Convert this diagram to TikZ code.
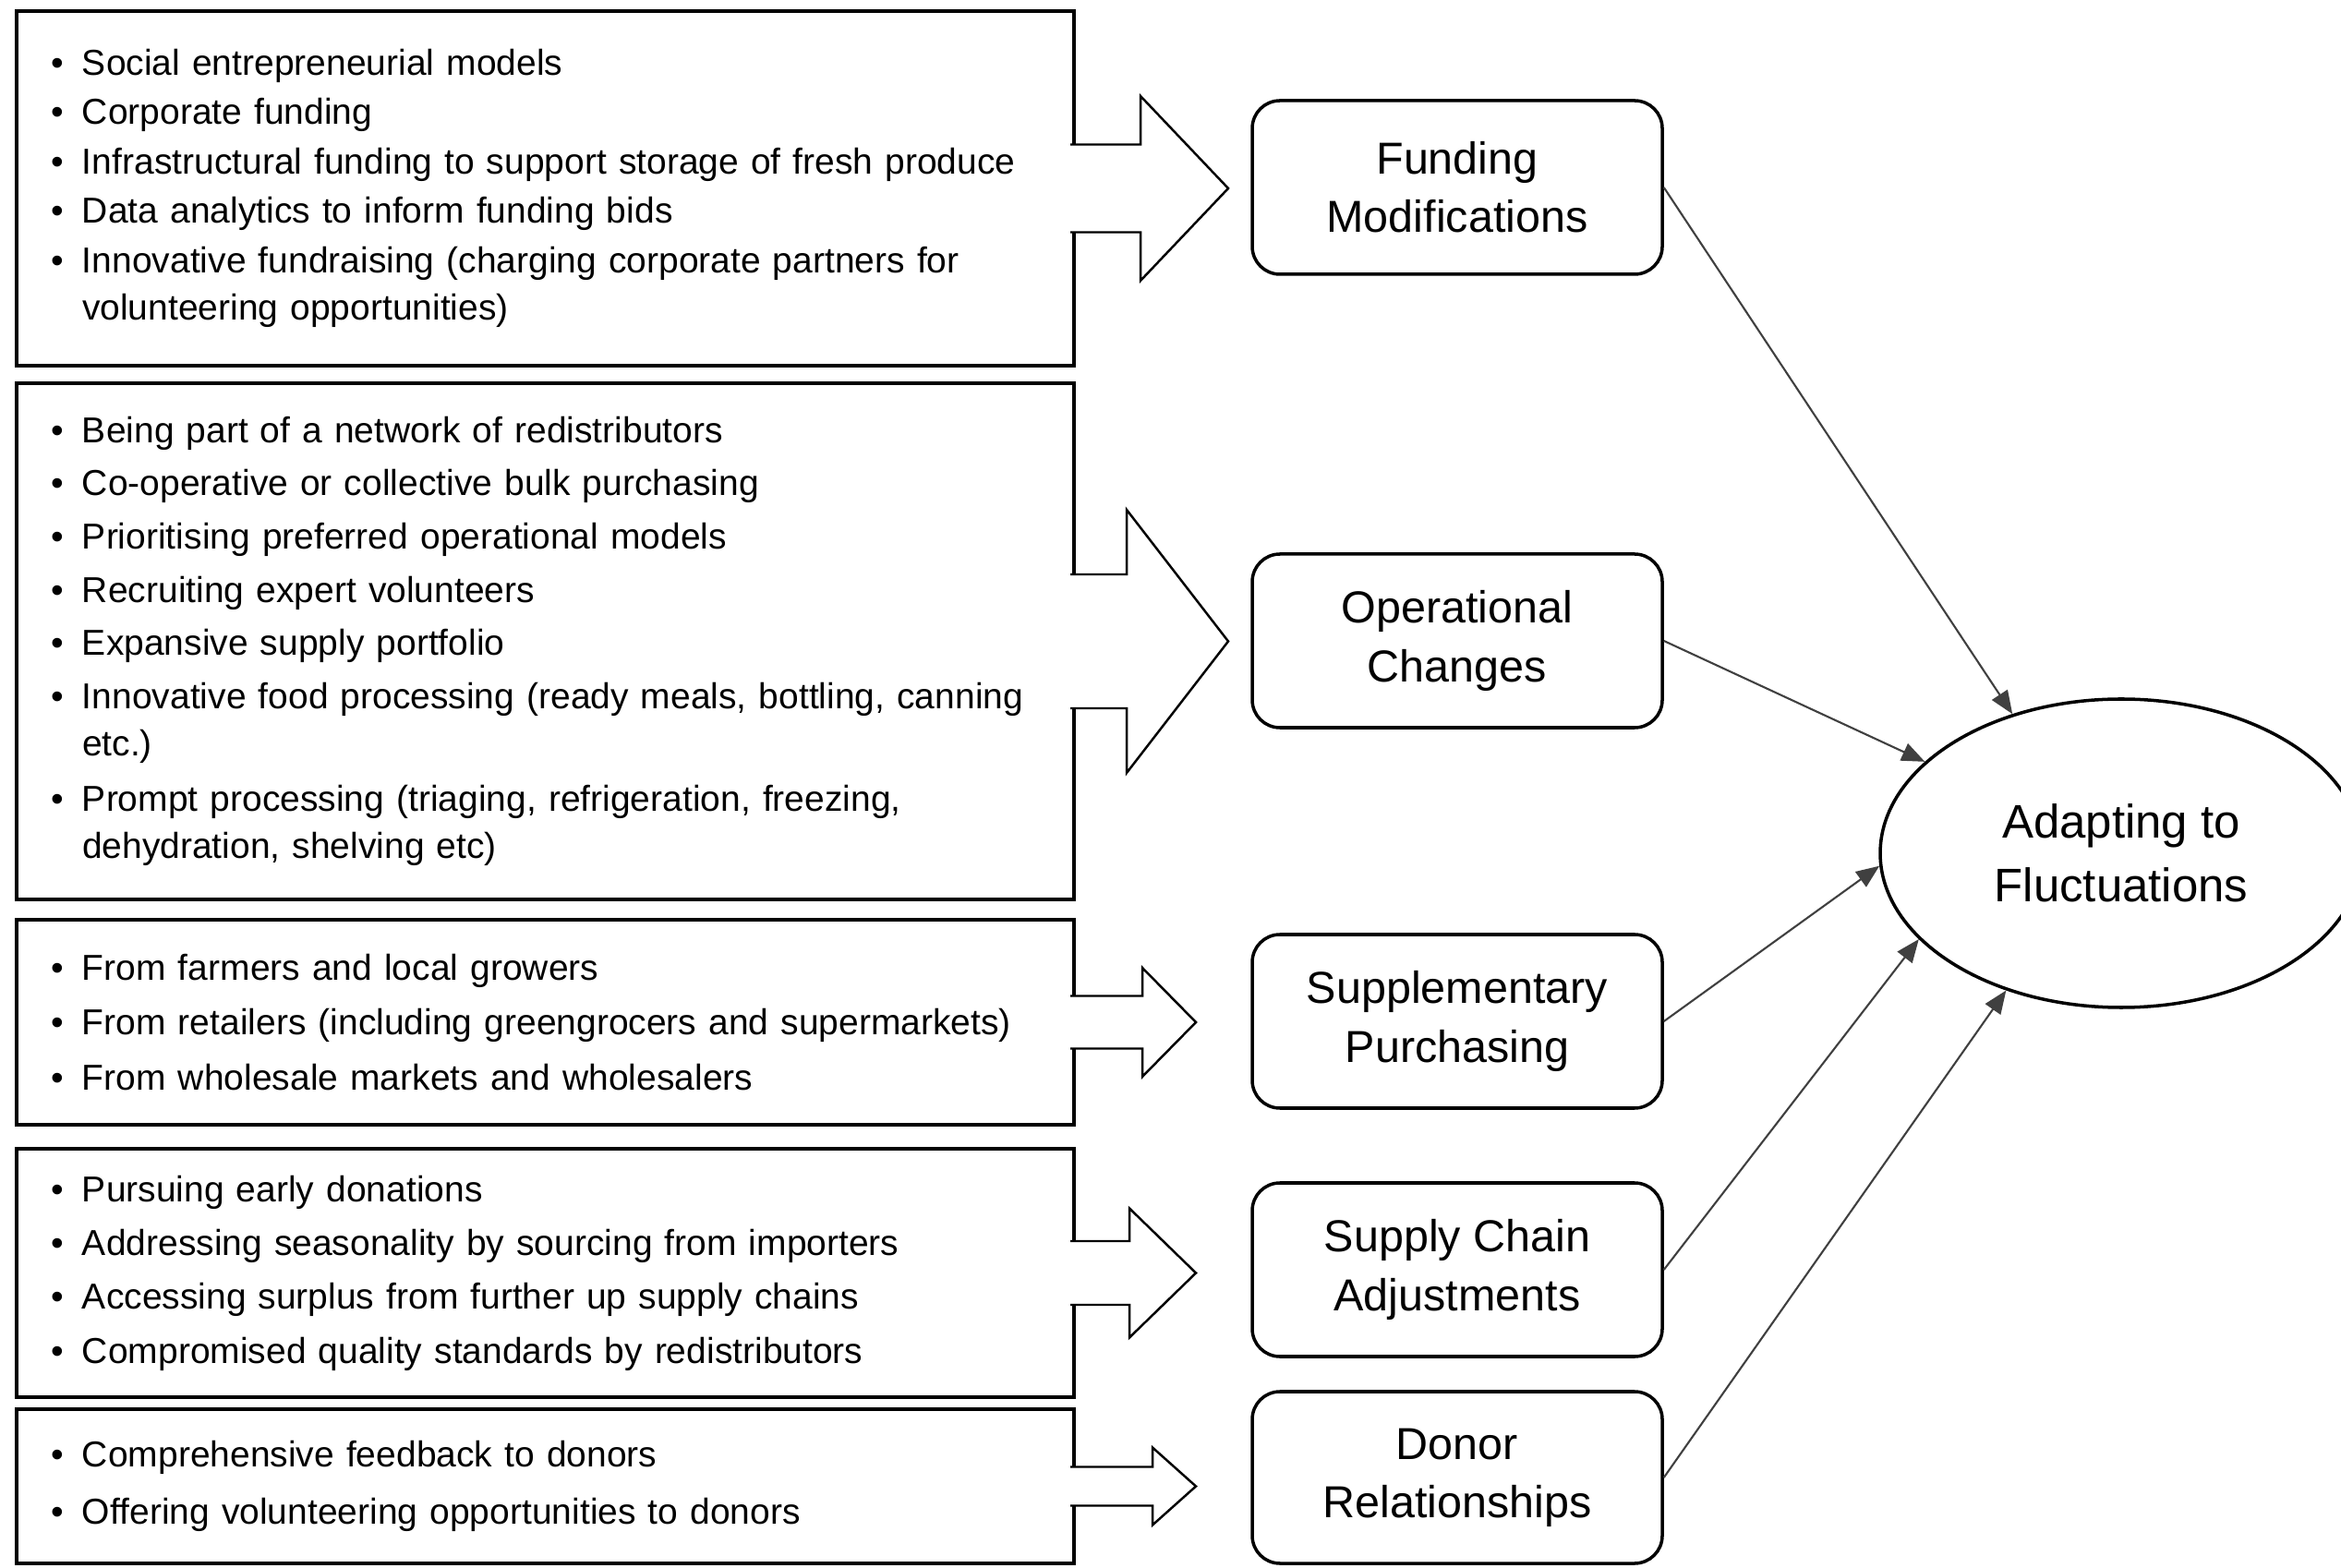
\documentclass[tikz,border=0pt]{standalone}
\usepackage{fontspec}
\setmainfont{Liberation Sans}
\usepackage{tikz}
\usetikzlibrary{
    arrows.meta,
    shapes.geometric
}

\newcommand{\bul}{\makebox[0.34cm][l]{\textbullet}}
\newcommand{\cont}{\makebox[0.34cm]{}}
\newcommand{\listfont}{%
    \fontsize{11.1}{14.6}\selectfont
    \spaceskip=0.23em plus 0.1em minus 0.05em\relax
    \hyphenpenalty=10000\relax}

\begin{document}
\begin{tikzpicture}[
    listbox/.style={
        draw=black,
        line width=1.1pt,
        outer sep=0pt,
        text width=10.71cm,
        inner xsep=0.37cm,
        align=left,
        font=\listfont
    },
    blockarrow/.style={
        draw=black,
        fill=white,
        line width=0.7pt,
        line join=miter
    },
    stage/.style={
        draw=black,
        line width=1pt,
        rounded corners=0.3cm,
        minimum width=4.44cm,
        minimum height=1.88cm,
        align=center,
        font=\fontsize{13.8}{18}\selectfont
    },
    goal/.style={
        ellipse,
        draw=black,
        line width=1pt,
        minimum width=5.22cm,
        minimum height=3.34cm,
        inner sep=0pt,
        align=center,
        font=\fontsize{14.5}{19.7}\selectfont
    },
    link/.style={
        -{Triangle[length=2.5mm,width=2mm]},
        draw=black!75,
        line width=0.6pt
    }
]

\useasboundingbox (0,0) rectangle (25.35,16.97);

% ============================================================
% LEFT COLUMN — STRATEGY LISTS
% ============================================================

\node[listbox, minimum height=3.84cm]
    (fundList) at (5.905,14.93)
{
\bul Social entrepreneurial models\\[0.6pt]
\bul Corporate funding\\[0.6pt]
\bul Infrastructural funding to support storage of fresh produce\\[0.6pt]
\bul Data analytics to inform funding bids\\[0.6pt]
\bul Innovative fundraising (charging corporate partners for\\
\cont volunteering opportunities)
};

\node[listbox, minimum height=5.59cm]
    (opsList) at (5.905,10.025)
{
\bul Being part of a network of redistributors\\[1.8pt]
\bul Co-operative or collective bulk purchasing\\[1.8pt]
\bul Prioritising preferred operational models\\[1.8pt]
\bul Recruiting expert volunteers\\[1.8pt]
\bul Expansive supply portfolio\\[1.8pt]
\bul Innovative food processing (ready meals, bottling, canning\\
\cont etc.)\\[2.4pt]
\bul Prompt processing (triaging, refrigeration, freezing,\\
\cont dehydration, shelving etc)
};

\node[listbox, minimum height=2.22cm]
    (buyList) at (5.905,5.90)
{
\bul From farmers and local growers\\[2.4pt]
\bul From retailers (including greengrocers and supermarkets)\\[2.4pt]
\bul From wholesale markets and wholesalers
};

\node[listbox, minimum height=2.69cm]
    (chainList) at (5.905,3.185)
{
\bul Pursuing early donations\\[2pt]
\bul Addressing seasonality by sourcing from importers\\[2pt]
\bul Accessing surplus from further up supply chains\\[2pt]
\bul Compromised quality standards by redistributors
};

\node[listbox, minimum height=1.67cm]
    (donorList) at (5.905,0.875)
{
\bul Comprehensive feedback to donors\\[3pt]
\bul Offering volunteering opportunities to donors
};

% Block arrows out of the lists
\draw[blockarrow]
    ([shift={(-0.04,0.475)}]fundList.east)
    -- ++(0.76,0) -- ++(0,0.525) -- ++(0.95,-1.0)
    -- ++(-0.95,-1.0) -- ++(0,0.525) -- ++(-0.76,0);

\draw[blockarrow]
    ([shift={(-0.04,0.725)}]opsList.east)
    -- ++(0.61,0) -- ++(0,0.70) -- ++(1.10,-1.425)
    -- ++(-1.10,-1.425) -- ++(0,0.70) -- ++(-0.61,0);

\draw[blockarrow]
    ([shift={(-0.04,0.285)}]buyList.east)
    -- ++(0.78,0) -- ++(0,0.305) -- ++(0.58,-0.59)
    -- ++(-0.58,-0.59) -- ++(0,0.305) -- ++(-0.78,0);

\draw[blockarrow]
    ([shift={(-0.04,0.345)}]chainList.east)
    -- ++(0.64,0) -- ++(0,0.355) -- ++(0.72,-0.70)
    -- ++(-0.72,-0.70) -- ++(0,0.355) -- ++(-0.64,0);

\draw[blockarrow]
    ([shift={(-0.04,0.21)}]donorList.east)
    -- ++(0.89,0) -- ++(0,0.21) -- ++(0.47,-0.42)
    -- ++(-0.47,-0.42) -- ++(0,0.21) -- ++(-0.89,0);

% ============================================================
% MIDDLE COLUMN — STRATEGY TYPES
% ============================================================

\node[stage] (fund) at (15.78,14.94) {Funding\\Modifications};

\node[stage] (ops) at (15.78,10.03) {Operational\\Changes};

\node[stage] (buy) at (15.78,5.91) {Supplementary\\Purchasing};

\node[stage] (chain) at (15.78,3.22) {Supply Chain\\Adjustments};

\node[stage, minimum height=1.86cm]
    (donor) at (15.78,0.97) {Donor\\Relationships};

% ============================================================
% RIGHT — OUTCOME
% ============================================================

\node[goal] (adapt) at (22.97,7.73) {Adapting to\\Fluctuations};

\draw[link] (fund.east) -- (adapt.128);
\draw[link] (ops.east) -- (adapt.155);
\draw[link] (buy.east) -- (adapt.183);
\draw[link] (chain.east) -- (adapt.203);
\draw[link] (donor.east) -- (adapt.230);

\end{tikzpicture}
\end{document}
